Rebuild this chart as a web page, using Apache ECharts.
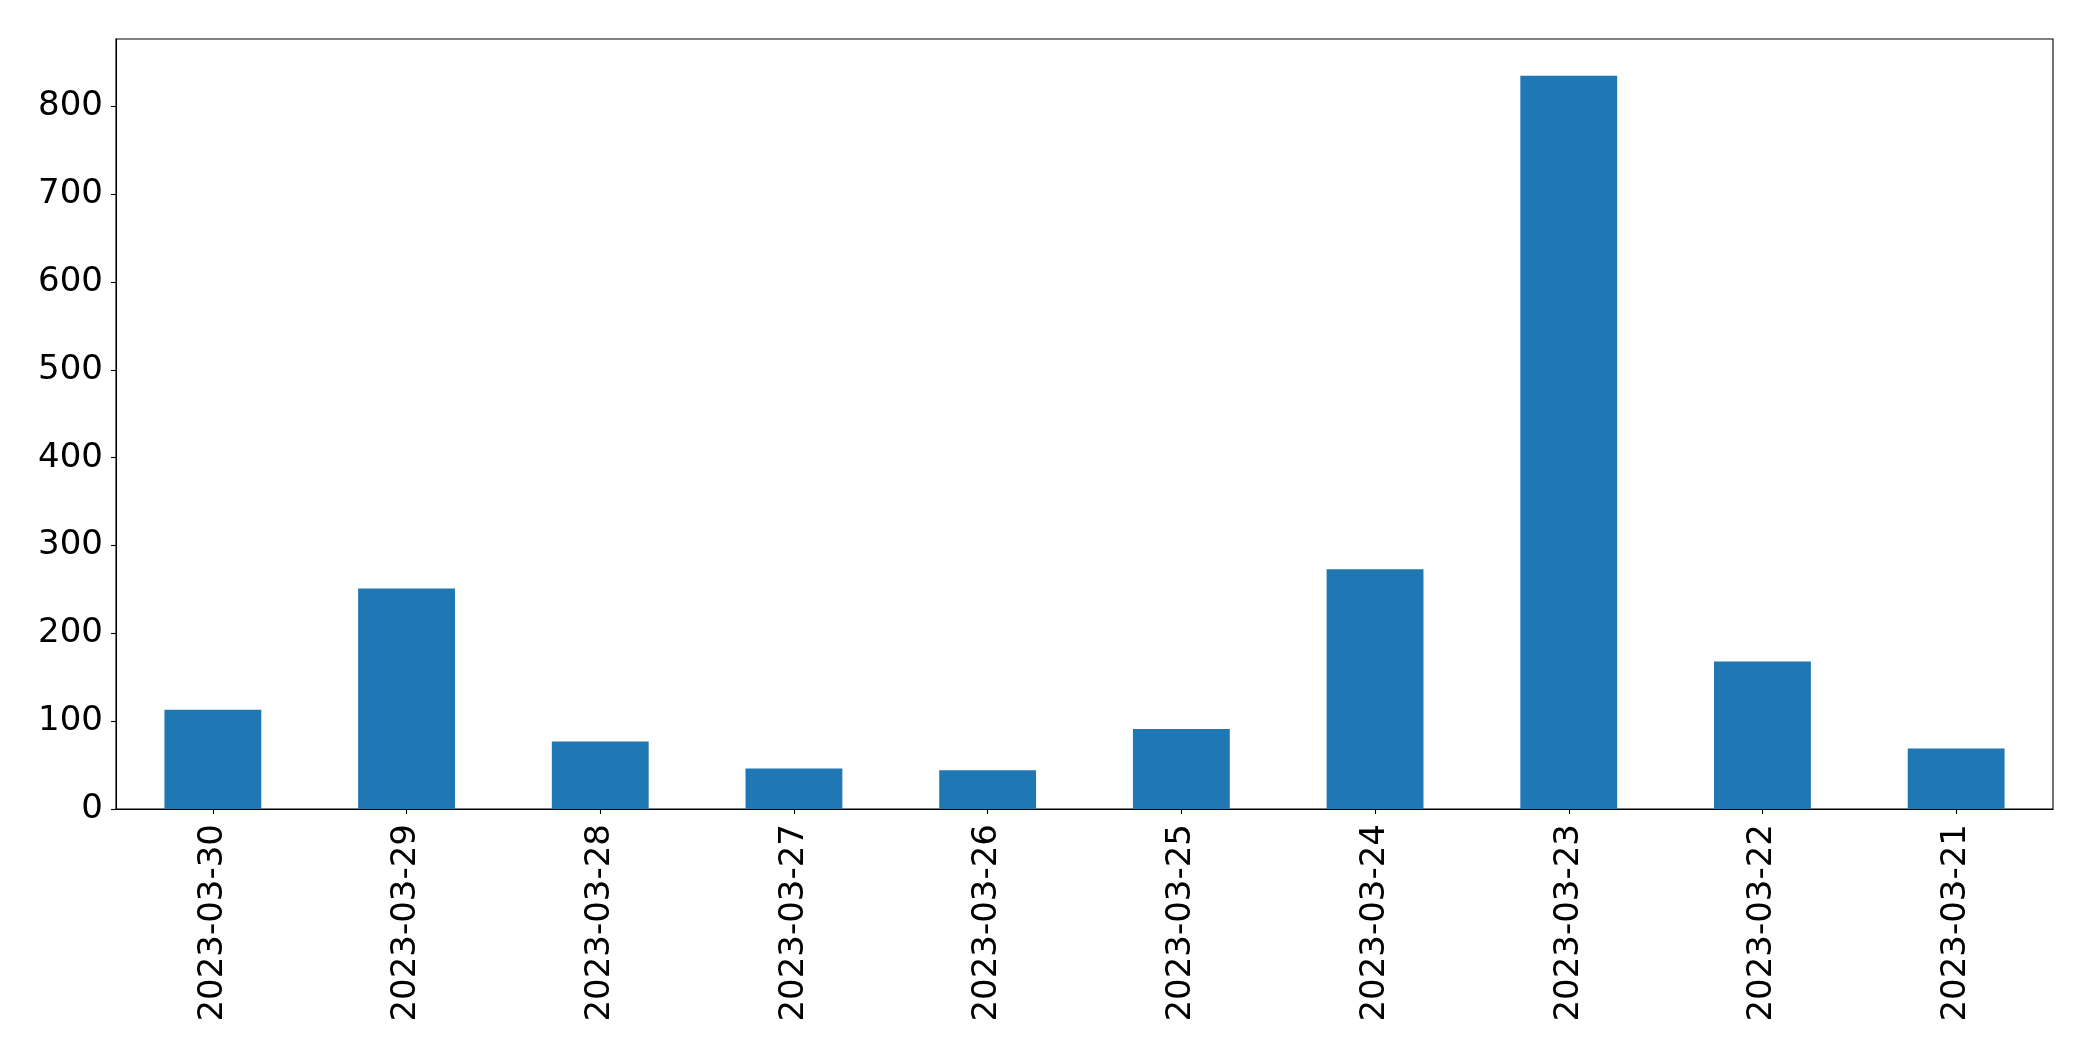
<!DOCTYPE html>
<html>
<head>
<meta charset="utf-8">
<script src="https://cdn.jsdelivr.net/npm/echarts@6/dist/echarts.min.js"></script>
<style>
html,body{margin:0;padding:0;background:#fff;}
#chart{width:2093px;height:1061px;}
</style>
</head>
<body>
<div id="chart"></div>
<script>
const categories = ['2023-03-30','2023-03-29','2023-03-28','2023-03-27','2023-03-26','2023-03-25','2023-03-24','2023-03-23','2023-03-22','2023-03-21'];
const values = [113, 251, 77, 46, 44, 91, 273, 835, 168, 69];
const yTicks = [0, 100, 200, 300, 400, 500, 600, 700, 800];

const chart = echarts.init(document.getElementById('chart'), null, {renderer: 'canvas'});
const font = 'DejaVu Sans';
chart.setOption({
  animation: false,
  backgroundColor: '#ffffff',
  grid: {
    left: 116, right: 40, top: 39, bottom: 252,
    show: true, borderColor: '#000', borderWidth: 1.1, backgroundColor: 'transparent'
  },
  xAxis: {
    type: 'category',
    data: categories,
    axisLine: {show: true, lineStyle: {color: '#000', width: 1.1}},
    axisTick: {show: true, alignWithLabel: true, length: 5, lineStyle: {color: '#000', width: 1.1}},
    axisLabel: {rotate: 90, color: '#000', fontFamily: font, fontSize: 34, margin: 15, interval: 0},
    splitLine: {show: false}
  },
  yAxis: {
    type: 'value',
    min: 0,
    max: 876.75,
    axisLine: {show: true, lineStyle: {color: '#000', width: 1.1}},
    axisTick: {show: true, length: 5, lineStyle: {color: '#000', width: 1.1}, customValues: yTicks},
    axisLabel: {color: '#000', fontFamily: font, fontSize: 34, margin: 13, customValues: yTicks},
    splitLine: {show: false}
  },
  series: [{
    type: 'bar',
    data: values,
    barWidth: '50%',
    itemStyle: {color: '#1f77b4'}
  }]
});
</script>
</body>
</html>
